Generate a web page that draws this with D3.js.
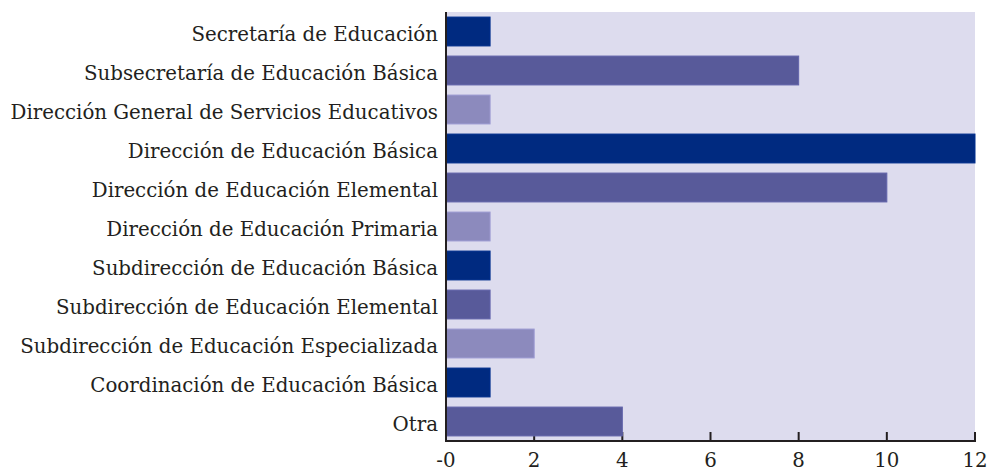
<html>
<head>
<title>Instancias</title>
<script src="https://d3js.org/d3.v7.min.js"></script>
<style>
body { margin: 0; background: #fff; }
.lbl { font-family: "DejaVu Serif", serif; font-size: 19.8px; fill: #231f20; }
</style>
</head>
<body>
<div id="chart"></div>
<script>
// data
var categories = [
  "Secretaría de Educación",
  "Subsecretaría de Educación Básica",
  "Dirección General de Servicios Educativos",
  "Dirección de Educación Básica",
  "Dirección de Educación Elemental",
  "Dirección de Educación Primaria",
  "Subdirección de Educación Básica",
  "Subdirección de Educación Elemental",
  "Subdirección de Educación Especializada",
  "Coordinación de Educación Básica",
  "Otra"
];
var values = [1, 8, 1, 12, 10, 1, 1, 1, 2, 1, 4];
var tickValues = [0, 2, 4, 6, 8, 10, 12];
var tickLabels = ["-0", "2", "4", "6", "8", "10", "12"];

var colors = ["#002a80", "#585a9a", "#8c8abd"];

var W = 989, H = 472;
var margin = {top: 12, right: 14, bottom: 31, left: 446};

var svg = d3.select("#chart").append("svg")
  .attr("width", W).attr("height", H);

var x = d3.scaleLinear().domain([0, 12]).range([margin.left, W - margin.right]);
var y = d3.scaleBand().domain(categories)
  .range([margin.top, H - margin.bottom])
  .paddingInner(0.26).paddingOuter(0.13);

// background
svg.append("rect")
  .attr("x", x(0)).attr("y", margin.top)
  .attr("width", x(12) - x(0)).attr("height", H - margin.bottom - margin.top)
  .attr("fill", "#dddcee");

// ticks (drawn under the bars)
svg.selectAll(".tk").data(tickValues.slice(1)).enter().append("line")
  .attr("x1", function(d) { return x(d); }).attr("x2", function(d) { return x(d); })
  .attr("y1", H - margin.bottom).attr("y2", H - margin.bottom - 9)
  .attr("stroke", "#231f20").attr("stroke-width", 2);

svg.selectAll(".bar").data(values).enter().append("rect")
  .attr("x", x(0))
  .attr("y", function(d, i) { return y(categories[i]); })
  .attr("width", function(d) { return x(d) - x(0); })
  .attr("height", y.bandwidth())
  .attr("fill", function(d, i) { return colors[i % 3]; })
  .attr("stroke", function(d, i) { return d3.color(colors[i % 3]).brighter(0.3); })
  .attr("stroke-width", 1);

// axes lines
svg.append("line")
  .attr("x1", x(0)).attr("x2", x(0))
  .attr("y1", margin.top).attr("y2", H - margin.bottom + 1)
  .attr("stroke", "#231f20").attr("stroke-width", 2);
svg.append("line")
  .attr("x1", x(0) - 1).attr("x2", x(12) + 1)
  .attr("y1", H - margin.bottom).attr("y2", H - margin.bottom)
  .attr("stroke", "#231f20").attr("stroke-width", 2);

// category labels
svg.selectAll(".cat").data(categories).enter().append("text")
  .attr("class", "lbl")
  .attr("x", 438)
  .attr("y", function(d) { return y(d) + y.bandwidth() / 2 + 9; })
  .attr("text-anchor", "end")
  .text(function(d) { return d; });

// tick labels
svg.selectAll(".tl").data(tickValues).enter().append("text")
  .attr("class", "lbl")
  .attr("x", function(d) { return x(d); })
  .attr("y", 467)
  .attr("text-anchor", "middle")
  .text(function(d, i) { return tickLabels[i]; });
</script>
</body>
</html>
